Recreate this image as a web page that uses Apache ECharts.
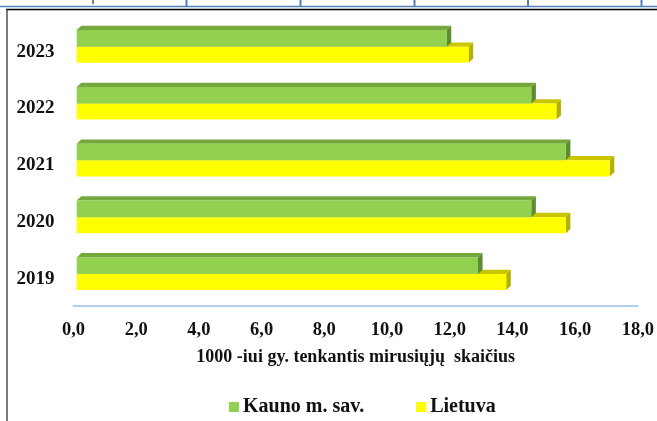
<!DOCTYPE html>
<html>
<head>
<meta charset="utf-8">
<script src="https://cdn.jsdelivr.net/npm/echarts@6/dist/echarts.min.js"></script>
<style>
html,body{margin:0;padding:0;background:#fff;}
#chart{width:657px;height:421px;}
</style>
</head>
<body>
<div id="chart"></div>
<script>
const categories = ['2019', '2020', '2021', '2022', '2023'];
const kaunas = [12.8, 14.5, 15.6, 14.5, 11.8];
const lietuva = [13.7, 15.6, 17.0, 15.3, 12.5];
const xTickLabels = ['0,0', '2,0', '4,0', '6,0', '8,0', '10,0', '12,0', '14,0', '16,0', '18,0'];
const seriesNames = ['Kauno m. sav.', 'Lietuva'];
const axisTitle = '1000 -iui gy. tenkantis mirusiųjų  skaičius';

const FONT = '"Liberation Serif", "Times New Roman", serif';

function make3D(front, top, side, upper) {
  return function (params, api) {
    const cat = api.value(0);
    const v = api.value(1);
    const p0 = api.coord([0, cat]);
    const p1 = api.coord([v, cat]);
    const band = api.size([0, 1])[1];
    const shift = 3.2;
    const dx = 4.6, dy = 4.3;
    const x0 = p0[0] + shift, x1 = p1[0] + shift;
    const cy = p0[1];
    const yT = upper ? cy - band * 0.292 : cy;
    const yB = upper ? cy : cy + band * 0.283;
    return {
      type: 'group',
      children: [
        { type: 'polygon', shape: { points: [[x0, yT], [x0 + dx, yT - dy], [x1 + dx, yT - dy], [x1, yT]] }, style: { fill: top } },
        { type: 'polygon', shape: { points: [[x1, yT], [x1 + dx, yT - dy], [x1 + dx, yB - dy], [x1, yB]] }, style: { fill: side } },
        { type: 'rect', shape: { x: x0, y: yT, width: x1 - x0, height: yB - yT }, style: { fill: front } }
      ]
    };
  };
}

const chart = echarts.init(document.getElementById('chart'), null, { renderer: 'canvas' });
chart.setOption({
  backgroundColor: '#ffffff',
  animation: false,
  grid: { left: 73.5, right: 18.5, top: 18.3, bottom: 118.6, containLabel: false },
  legend: {
    data: seriesNames,
    left: 229,
    top: 397,
    padding: 0,
    itemWidth: 10,
    itemHeight: 10,
    itemGap: 52,
    icon: 'rect',
    textStyle: { fontFamily: FONT, fontWeight: 'bold', fontSize: 20, color: '#111', padding: [0, 0, 0, -1] }
  },
  xAxis: {
    type: 'value',
    min: 0, max: 18, interval: 2,
    offset: 3,
    axisLine: { show: true, lineStyle: { color: '#B4D0EE', width: 2 } },
    axisTick: { show: false },
    splitLine: { show: false },
    axisLabel: {
      margin: 15,
      fontFamily: FONT, fontWeight: 'bold', fontSize: 18.5, color: '#111',
      formatter: function (v) { return xTickLabels[Math.round(v / 2)]; }
    },
    name: axisTitle,
    nameLocation: 'middle',
    nameGap: 43,
    nameTextStyle: { fontFamily: FONT, fontWeight: 'bold', fontSize: 18, color: '#111' }
  },
  yAxis: {
    type: 'category',
    data: categories,
    axisLine: { show: false },
    axisTick: { show: false },
    splitLine: { show: false },
    axisLabel: {
      margin: 19,
      verticalAlign: 'top',
      lineHeight: 10,
      fontFamily: FONT, fontWeight: 'bold', fontSize: 19, color: '#111'
    }
  },
  series: [
    {
      name: seriesNames[0],
      type: 'custom',
      z: 3,
      itemStyle: { color: '#92D050' },
      encode: { x: 1, y: 0 },
      renderItem: make3D('#92D050', '#74A83C', '#5F8C32', true),
      data: categories.map((c, i) => [i, kaunas[i]])
    },
    {
      name: seriesNames[1],
      type: 'custom',
      z: 2,
      itemStyle: { color: '#FFFF00' },
      encode: { x: 1, y: 0 },
      renderItem: make3D('#FFFF00', '#C9C600', '#B3B000', false),
      data: categories.map((c, i) => [i, lietuva[i]])
    }
  ],
  graphic: [
    { type: 'line', shape: { x1: 0, y1: 6.5, x2: 657, y2: 6.5 }, style: { stroke: '#4F7FC0', lineWidth: 1.7 } },
    { type: 'line', shape: { x1: 186.5, y1: 0, x2: 186.5, y2: 6 }, style: { stroke: '#4F7FC0', lineWidth: 2 } },
    { type: 'line', shape: { x1: 300.5, y1: 0, x2: 300.5, y2: 6 }, style: { stroke: '#4F7FC0', lineWidth: 2 } },
    { type: 'line', shape: { x1: 414.5, y1: 0, x2: 414.5, y2: 6 }, style: { stroke: '#4F7FC0', lineWidth: 2 } },
    { type: 'line', shape: { x1: 528, y1: 0, x2: 528, y2: 6 }, style: { stroke: '#4F7FC0', lineWidth: 2 } },
    { type: 'line', shape: { x1: 641.5, y1: 0, x2: 641.5, y2: 6 }, style: { stroke: '#4F7FC0', lineWidth: 2 } },
    { type: 'line', shape: { x1: 93, y1: 0, x2: 93, y2: 4 }, style: { stroke: '#000', lineWidth: 1 } },
    { type: 'line', shape: { x1: 6, y1: 9.4, x2: 657, y2: 9.4 }, style: { stroke: '#000', lineWidth: 1.5 } },
    { type: 'line', shape: { x1: 7, y1: 9, x2: 7, y2: 421 }, style: { stroke: '#333', lineWidth: 1.3 } }
  ]
});
</script>
</body>
</html>
